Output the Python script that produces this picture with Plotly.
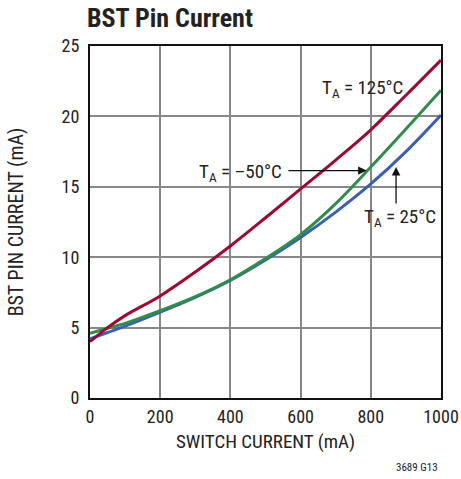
import plotly.graph_objects as go

switch_ma = [0, 50, 100, 200, 300, 400, 500, 600, 700, 800, 900, 1000]
bst_125 = [4.0, 5.0, 5.85, 7.25, 8.95, 10.8, 12.8, 14.85, 16.9, 19.05, 21.5, 24.0]
bst_m50 = [4.6, 4.95, 5.3, 6.2, 7.2, 8.4, 9.9, 11.6, 13.8, 16.4, 19.1, 21.85]
bst_25 = [4.2, 4.65, 5.1, 6.1, 7.15, 8.35, 9.8, 11.4, 13.2, 15.2, 17.5, 20.1]

FONT = "Liberation Sans Narrow, Arial Narrow, Roboto Condensed, Roboto, sans-serif"

W, H = 461, 479
L, R, T, B = 90, 20, 46, 81
PW, PH = W - L - R, H - T - B

fig = go.Figure()
fig.add_trace(go.Scatter(x=switch_ma, y=bst_25, mode="lines", line=dict(color="#3a5fb4", width=3, shape="spline"), name="25"))
fig.add_trace(go.Scatter(x=switch_ma, y=bst_m50, mode="lines", line=dict(color="#2f8c4a", width=3, shape="spline"), name="-50"))
fig.add_trace(go.Scatter(x=switch_ma, y=bst_125, mode="lines", line=dict(color="#a0062e", width=3, shape="spline"), name="125"))

fig.update_layout(
    width=W, height=H,
    margin=dict(l=L, r=R, t=T, b=B, autoexpand=False),
    paper_bgcolor="white", plot_bgcolor="white",
    showlegend=False,
    font=dict(family=FONT, size=18, color="#222"),
    title=dict(text="<b>BST Pin Current</b>", x=87 / W, xanchor="left", y=1 - 18 / H, yanchor="middle",
               font=dict(family=FONT, size=26, color="#222")),
)
fig.update_xaxes(range=[0, 1000], tickvals=[0, 200, 400, 600, 800, 1000], showgrid=True, gridcolor="#888",
                 gridwidth=1.5, showline=True, linecolor="#111", linewidth=2, mirror=True, ticks="",
                 zeroline=False, automargin=False, ticklabelstandoff=1,
                 title=dict(text="SWITCH CURRENT (mA)", standoff=9, font=dict(size=19)),
                 tickfont=dict(size=18))
fig.update_yaxes(range=[0, 25], tickvals=[0, 5, 10, 15, 20, 25], showgrid=True, gridcolor="#888",
                 gridwidth=1.5, showline=True, linecolor="#111", linewidth=2, mirror=True, ticks="",
                 zeroline=False, automargin=False, ticklabelstandoff=5,
                 title=dict(text="BST PIN CURRENT (mA)", standoff=33, font=dict(size=20)),
                 tickfont=dict(size=18))

fig.add_annotation(x=777, y=22.0, text="T<sub>A</sub> = 125°C", showarrow=False, font=dict(size=19),
                   xanchor="center", yanchor="middle")
fig.add_annotation(x=553, y=16.0, text="T<sub>A</sub> = –50°C", showarrow=False, font=dict(size=19),
                   xanchor="right", yanchor="middle")
fig.add_annotation(x=883, y=12.8, text="T<sub>A</sub> = 25°C", showarrow=False, font=dict(size=19),
                   xanchor="center", yanchor="middle")
fig.add_annotation(x=788, y=16.15, ax=561, ay=16.15, axref="x", ayref="y", xref="x", yref="y",
                   text="", showarrow=True, arrowhead=2, arrowsize=1.3, arrowwidth=1.3, arrowcolor="#111")
fig.add_annotation(x=872, y=16.4, ax=872, ay=13.7, axref="x", ayref="y", xref="x", yref="y",
                   text="", showarrow=True, arrowhead=2, arrowsize=1.3, arrowwidth=1.3, arrowcolor="#111")
fig.add_annotation(x=(440 - L) / PW, y=(T + PH - 467) / PH, xref="paper", yref="paper", text="3689 G13",
                   showarrow=False, xanchor="right", yanchor="middle", font=dict(size=11))

fig.write_html("out.html", config={"displayModeBar": False},
               post_script="document.body.style.margin='0';")
